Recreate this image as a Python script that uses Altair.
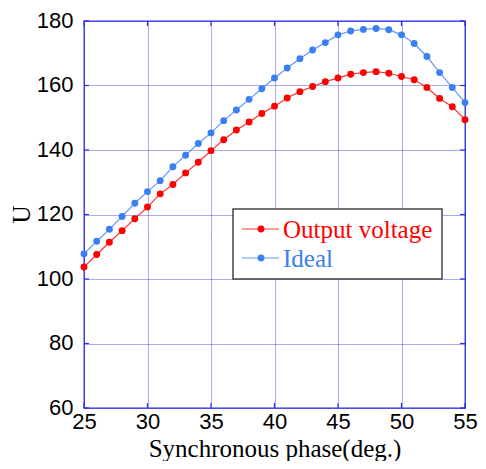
import altair as alt
import pandas as pd

phase = list(range(25, 56))
output_voltage = [103.7, 107.6, 111.4, 115.0, 118.7, 122.3, 126.4, 129.3, 132.9, 136.2,
                  139.8, 143.2, 146.2, 148.7, 151.3, 153.6, 156.1, 158.1, 159.7, 161.2,
                  162.3, 163.5, 164.0, 164.3, 163.8, 162.8, 161.8, 159.4, 156.0, 153.4, 149.4]
ideal = [107.8, 111.7, 115.4, 119.4, 123.5, 127.1, 130.5, 134.8, 138.4, 142.0,
         145.3, 149.1, 152.4, 155.7, 159.0, 162.3, 165.4, 168.3, 171.0, 173.3,
         175.7, 176.9, 177.4, 177.7, 177.3, 175.7, 173.0, 169.0, 164.0, 159.4, 154.7]
series_names = ["Output voltage", "Ideal"]
series_colors = ["#ff0000", "#3a80f2"]
x_ticks = [25, 30, 35, 40, 45, 50, 55]
y_ticks = [60, 80, 100, 120, 140, 160, 180]

df = pd.DataFrame({
    "phase": phase * 2,
    "U": output_voltage + ideal,
    "series": [series_names[0]] * len(phase) + [series_names[1]] * len(phase),
})

W, H = 381, 387
FRAME = "#2a2ae6"

xscale = alt.Scale(domain=[25, 55], nice=False, zero=False)
yscale = alt.Scale(domain=[60, 180], nice=False, zero=False)
cscale = alt.Scale(domain=series_names, range=series_colors)

xaxis = alt.Axis(values=x_ticks, title="Synchronous phase(deg.)", labelFlush=False,
                 titleY=40, titleBaseline="middle", labelPadding=3)
yaxis = alt.Axis(values=y_ticks, title="U", titleX=-63, titleY=193, labelFlush=False,
                 titleBaseline="middle", titleAngle=-90, labelPadding=11,
                 labelOffset=-1)

base = alt.Chart(df).encode(
    x=alt.X("phase:Q", scale=xscale, axis=xaxis),
    y=alt.Y("U:Q", scale=yscale, axis=yaxis),
    color=alt.Color("series:N", scale=cscale, legend=None),
    detail="series:N",
)
lines = base.mark_line(strokeWidth=1.2, opacity=0.8)
points = base.mark_point(filled=True, size=48, opacity=1, shape="circle")

xt = pd.DataFrame({"phase": x_ticks})
yt = pd.DataFrame({"U": y_ticks})
tick_len = 5
ticks = [
    alt.Chart(xt).mark_rule(color=FRAME, strokeWidth=1.2).encode(
        x=alt.X("phase:Q", scale=xscale, axis=xaxis), y=alt.value(H), y2=alt.value(H - tick_len)),
    alt.Chart(xt).mark_rule(color=FRAME, strokeWidth=1.2).encode(
        x=alt.X("phase:Q", scale=xscale, axis=xaxis), y=alt.value(0), y2=alt.value(tick_len)),
    alt.Chart(yt).mark_rule(color=FRAME, strokeWidth=1.2).encode(
        y=alt.Y("U:Q", scale=yscale, axis=yaxis), x=alt.value(0), x2=alt.value(tick_len)),
    alt.Chart(yt).mark_rule(color=FRAME, strokeWidth=1.2).encode(
        y=alt.Y("U:Q", scale=yscale, axis=yaxis), x=alt.value(W), x2=alt.value(W - tick_len)),
]

legend_df = pd.DataFrame({"series": series_names})
box = alt.Chart(legend_df).transform_filter(alt.datum.series == series_names[0]).mark_rect(
    fill="white", stroke="#444444", strokeWidth=1.5
).encode(x=alt.value(149), x2=alt.value(358), y=alt.value(188), y2=alt.value(258))

legend_layers = [box]
row_y = [208, 237]
for name, col, ry in zip(series_names, series_colors, row_y):
    sub = alt.Chart(legend_df).transform_filter(alt.datum.series == name)
    legend_layers.append(sub.mark_rule(color=col, strokeWidth=1.2, opacity=0.8).encode(
        x=alt.value(158), x2=alt.value(195), y=alt.value(ry)))
    legend_layers.append(sub.mark_point(filled=True, size=48, color=col, opacity=1).encode(
        x=alt.value(177), y=alt.value(ry)))
    legend_layers.append(sub.mark_text(align="left", baseline="middle", font="Liberation Serif",
                                       fontSize=25, color=col).encode(
        x=alt.value(199), y=alt.value(ry + 1), text="series:N"))

chart = alt.layer(lines, points, *ticks, *legend_layers).properties(
    width=W, height=H,
    autosize=alt.AutoSizeParams(type="none"),
    padding={"left": 76, "top": 13, "right": 13, "bottom": 53},
).configure_view(
    stroke=FRAME, strokeWidth=1.3
).configure_axis(
    domain=False, ticks=False, grid=True,
    gridColor="#3030e0", gridDash=[1, 1], gridWidth=1, gridOpacity=0.8,
    labelFont="Liberation Sans", labelFontSize=22, labelColor="black",
    titleFont="Liberation Serif", titleFontSize=25, titleColor="black", titleFontWeight="normal",
)

chart.save("out.html", embed_options={"renderer": "svg", "actions": False})
